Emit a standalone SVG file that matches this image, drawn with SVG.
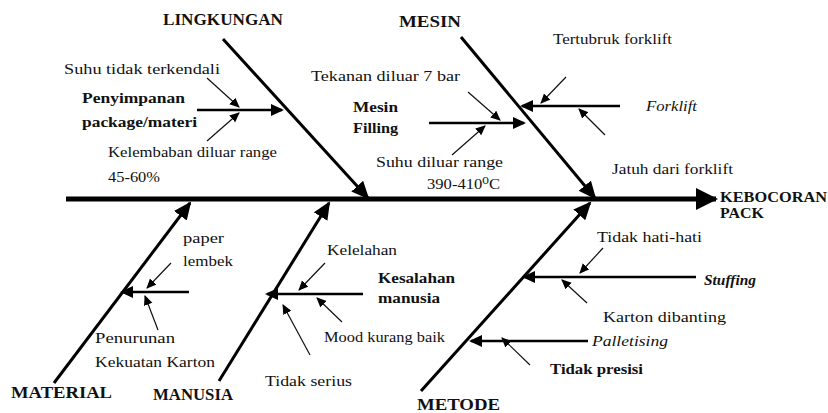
<svg xmlns="http://www.w3.org/2000/svg" width="828" height="413" viewBox="0 0 828 413">
<defs>
<style>
text{font-family:"Liberation Serif","DejaVu Serif",serif;fill:#111;font-size:15px}
.b{font-weight:bold}
.i{font-style:italic}
.cat{font-weight:bold;font-size:16px}
.spine{stroke:#000;stroke-width:5;fill:none}
.bone{stroke:#000;stroke-width:3;fill:none}
.sub{stroke:#000;stroke-width:2.5;fill:none}
.thin{stroke:#111;stroke-width:1.2;fill:none}
</style>
<marker id="hSpine" markerUnits="userSpaceOnUse" markerWidth="24" markerHeight="24" refX="20" refY="11" orient="auto"><path d="M0,0 L22,11 L0,22 z" fill="#000"/></marker>
<marker id="hBone" markerUnits="userSpaceOnUse" markerWidth="20" markerHeight="18" refX="16" refY="8" orient="auto"><path d="M0,0 L18,8 L0,16 z" fill="#000"/></marker>
<marker id="hSub" markerUnits="userSpaceOnUse" markerWidth="14" markerHeight="14" refX="11" refY="6" orient="auto"><path d="M0,0 L13,6 L0,12 z" fill="#000"/></marker>
<marker id="hThin" markerUnits="userSpaceOnUse" markerWidth="12" markerHeight="10" refX="9" refY="4.5" orient="auto"><path d="M0,0 L10,4.5 L0,9 z" fill="#000"/></marker>
</defs>
<rect width="828" height="413" fill="#fff"/>

<g id="connectors">
<line class="spine" x1="66" y1="199" x2="716" y2="199" marker-end="url(#hSpine)"/>
<line class="bone" x1="223" y1="39" x2="368" y2="198" marker-end="url(#hBone)"/>
<line class="bone" x1="461" y1="37" x2="595" y2="198" marker-end="url(#hBone)"/>
<line class="bone" x1="54" y1="383" x2="190" y2="203" marker-end="url(#hBone)"/>
<line class="bone" x1="219" y1="381" x2="329" y2="203" marker-end="url(#hBone)"/>
<line class="bone" x1="421" y1="391" x2="590" y2="203" marker-end="url(#hBone)"/>
<line class="sub" x1="197" y1="110" x2="282" y2="110" marker-end="url(#hSub)"/>
<line class="sub" x1="429" y1="123" x2="524" y2="123" marker-end="url(#hSub)"/>
<line class="sub" x1="620" y1="106" x2="522" y2="106" marker-end="url(#hSub)"/>
<line class="sub" x1="189" y1="292" x2="122" y2="292" marker-end="url(#hSub)"/>
<line class="sub" x1="363" y1="294" x2="267" y2="294" marker-end="url(#hSub)"/>
<line class="sub" x1="696" y1="277" x2="524" y2="277" marker-end="url(#hSub)"/>
<line class="sub" x1="588" y1="341" x2="471" y2="341" marker-end="url(#hSub)"/>
<line class="thin" x1="207" y1="78" x2="239" y2="107" marker-end="url(#hThin)"/>
<line class="thin" x1="207" y1="141" x2="239" y2="113" marker-end="url(#hThin)"/>
<line class="thin" x1="468" y1="92" x2="500" y2="120" marker-end="url(#hThin)"/>
<line class="thin" x1="452" y1="155" x2="485" y2="126" marker-end="url(#hThin)"/>
<line class="thin" x1="566" y1="77" x2="541" y2="103" marker-end="url(#hThin)"/>
<line class="thin" x1="605" y1="135" x2="579" y2="109" marker-end="url(#hThin)"/>
<line class="thin" x1="171" y1="263" x2="147" y2="288" marker-end="url(#hThin)"/>
<line class="thin" x1="158" y1="330" x2="145" y2="296" marker-end="url(#hThin)"/>
<line class="thin" x1="325" y1="263" x2="299" y2="290" marker-end="url(#hThin)"/>
<line class="thin" x1="342" y1="322" x2="317" y2="298" marker-end="url(#hThin)"/>
<line class="thin" x1="310" y1="355" x2="283" y2="305" marker-end="url(#hThin)"/>
<line class="thin" x1="603" y1="248" x2="580" y2="273" marker-end="url(#hThin)"/>
<line class="thin" x1="587" y1="303" x2="562" y2="280" marker-end="url(#hThin)"/>
<line class="thin" x1="530" y1="365" x2="502" y2="338" marker-end="url(#hThin)"/>
</g>

<g id="effect"><text class="b" x="720" y="202" textLength="107" lengthAdjust="spacingAndGlyphs">KEBOCORAN</text><text class="b" x="720" y="218" textLength="44" lengthAdjust="spacingAndGlyphs">PACK</text></g>

<g id="cat-lingkungan"><text class="cat" x="163" y="25" textLength="120" lengthAdjust="spacingAndGlyphs">LINGKUNGAN</text></g>
<g id="cat-mesin"><text class="cat" x="399" y="27" font-size="17" textLength="62" lengthAdjust="spacingAndGlyphs">MESIN</text></g>
<g id="cat-material"><text class="cat" x="11" y="398" textLength="101" lengthAdjust="spacingAndGlyphs">MATERIAL</text></g>
<g id="cat-manusia"><text class="cat" x="153" y="400" textLength="80" lengthAdjust="spacingAndGlyphs">MANUSIA</text></g>
<g id="cat-metode"><text class="cat" x="417" y="410" textLength="83" lengthAdjust="spacingAndGlyphs">METODE</text></g>

<g id="penyimpanan"><text class="b" x="82" y="103" textLength="103" lengthAdjust="spacingAndGlyphs">Penyimpanan</text><text class="b" x="82" y="127" textLength="115" lengthAdjust="spacingAndGlyphs">package/materi</text></g>
<g id="suhu-tidak-terkendali"><text x="64" y="74" textLength="156" lengthAdjust="spacingAndGlyphs">Suhu tidak terkendali</text></g>
<g id="kelembaban"><text x="108" y="157" textLength="169" lengthAdjust="spacingAndGlyphs">Kelembaban diluar range</text><text x="108" y="182" textLength="52" lengthAdjust="spacingAndGlyphs">45-60%</text></g>

<g id="mesin-filling"><text class="b" x="353" y="112" textLength="45" lengthAdjust="spacingAndGlyphs">Mesin</text><text class="b" x="353" y="133" textLength="45" lengthAdjust="spacingAndGlyphs">Filling</text></g>
<g id="tekanan"><text x="311" y="81" font-size="14" textLength="149" lengthAdjust="spacingAndGlyphs">Tekanan diluar 7 bar</text></g>
<g id="suhu-diluar-range"><text x="376" y="167" textLength="127" lengthAdjust="spacingAndGlyphs">Suhu diluar range</text><text x="427" y="189" textLength="73" lengthAdjust="spacingAndGlyphs">390-410⁰C</text></g>

<g id="forklift"><text class="i" x="646" y="111" textLength="51" lengthAdjust="spacingAndGlyphs">Forklift</text></g>
<g id="tertubruk"><text x="553" y="44" font-size="14" textLength="119" lengthAdjust="spacingAndGlyphs">Tertubruk forklift</text></g>
<g id="jatuh"><text x="612" y="174" font-size="14" textLength="121" lengthAdjust="spacingAndGlyphs">Jatuh dari forklift</text></g>

<g id="paper-lembek"><text x="183" y="243" textLength="41" lengthAdjust="spacingAndGlyphs">paper</text><text x="183" y="266" textLength="50" lengthAdjust="spacingAndGlyphs">lembek</text></g>
<g id="penurunan"><text x="95" y="343" textLength="80" lengthAdjust="spacingAndGlyphs">Penurunan</text><text x="95" y="367" textLength="120" lengthAdjust="spacingAndGlyphs">Kekuatan Karton</text></g>

<g id="kesalahan-manusia"><text class="b" x="378" y="283" textLength="77" lengthAdjust="spacingAndGlyphs">Kesalahan</text><text class="b" x="378" y="303" textLength="62" lengthAdjust="spacingAndGlyphs">manusia</text></g>
<g id="kelelahan"><text x="327" y="255" font-size="14" textLength="70" lengthAdjust="spacingAndGlyphs">Kelelahan</text></g>
<g id="mood"><text x="324" y="342" font-size="14" textLength="121" lengthAdjust="spacingAndGlyphs">Mood kurang baik</text></g>
<g id="tidak-serius"><text x="265" y="386" font-size="14" textLength="87" lengthAdjust="spacingAndGlyphs">Tidak serius</text></g>

<g id="stuffing"><text class="b i" x="704" y="285" font-size="14" textLength="52" lengthAdjust="spacingAndGlyphs">Stuffing</text></g>
<g id="tidak-hati-hati"><text x="597" y="242" textLength="105" lengthAdjust="spacingAndGlyphs">Tidak hati-hati</text></g>
<g id="karton-dibanting"><text x="603" y="322" textLength="123" lengthAdjust="spacingAndGlyphs">Karton dibanting</text></g>
<g id="palletising"><text class="i" x="592" y="346" font-size="17" textLength="76" lengthAdjust="spacingAndGlyphs">Palletising</text></g>
<g id="tidak-presisi"><text class="b" x="550" y="374" font-size="14" textLength="93" lengthAdjust="spacingAndGlyphs">Tidak presisi</text></g>
</svg>
